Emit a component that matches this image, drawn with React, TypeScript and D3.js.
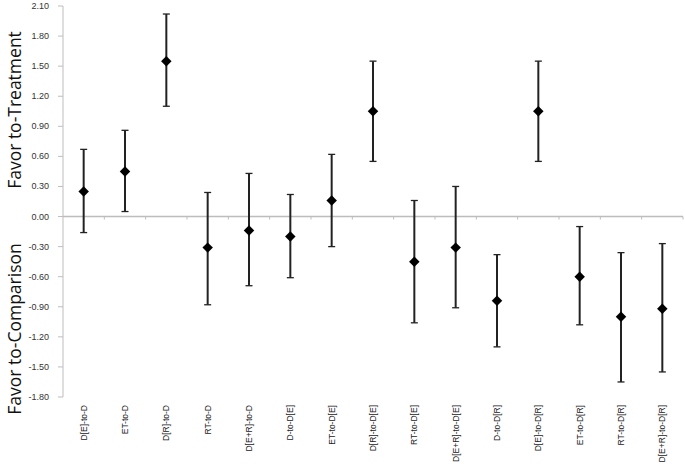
import React from "react";
import * as d3 from "d3";

const categories = [
  "D[E]-to-D", "ET-to-D", "D[R]-to-D", "RT-to-D", "D[E+R]-to-D",
  "D-to-D[E]", "ET-to-D[E]", "D[R]-to-D[E]", "RT-to-D[E]", "D[E+R]-to-D[E]",
  "D-to-D[R]", "D[E]-to-D[R]", "ET-to-D[R]", "RT-to-D[R]", "D[E+R]-to-D[R]",
];
const estimates = [0.25, 0.45, 1.55, -0.31, -0.14, -0.2, 0.16, 1.05, -0.45, -0.31, -0.84, 1.05, -0.6, -1.0, -0.92];
const lowers = [-0.16, 0.05, 1.1, -0.88, -0.69, -0.61, -0.3, 0.55, -1.06, -0.91, -1.3, 0.55, -1.08, -1.65, -1.55];
const uppers = [0.67, 0.86, 2.02, 0.24, 0.43, 0.22, 0.62, 1.55, 0.16, 0.3, -0.38, 1.55, -0.1, -0.36, -0.27];
const yTicks = [2.1, 1.8, 1.5, 1.2, 0.9, 0.6, 0.3, 0.0, -0.3, -0.6, -0.9, -1.2, -1.5, -1.8];

const W = 685, H = 471;
const left = 63, right = 683, top = 6, bottom = 397;
const font = "'Liberation Sans', Arial, sans-serif";
const titleFont = "'Open Sans', 'Liberation Sans', sans-serif";

export default function App() {
  const x = d3.scaleBand<string>().domain(categories).range([left, right]);
  const y = d3.scaleLinear().domain([-1.8, 2.1]).range([bottom, top]);
  const y0 = y(0);
  const bw = x.bandwidth();
  const diamond = d3.symbol().type(d3.symbolDiamond2).size(70)();

  return (
    <svg width={W} height={H} style={{ position: "absolute", left: 0, top: 0, background: "#fff" }}>
      <line x1={left} x2={left} y1={y(2.1)} y2={y(-1.8)} stroke="#bdbdbd" strokeWidth={1} />
      {yTicks.map((t) => (
        <g key={t}>
          <line x1={left - 5} x2={left} y1={y(t)} y2={y(t)} stroke="#bdbdbd" strokeWidth={1} />
          <text x={left - 14} y={y(t) + 3} textAnchor="end" fontSize={9} fill="#333" fontFamily={font}>
            {t.toFixed(2)}
          </text>
        </g>
      ))}
      <line x1={left} x2={right} y1={y0} y2={y0} stroke="#bdbdbd" strokeWidth={1.5} />
      {categories.map((c, i) => (
        <line key={"t" + i} x1={x(c)! + bw} x2={x(c)! + bw} y1={y0} y2={y0 + 3} stroke="#bdbdbd" strokeWidth={1} />
      ))}
      {categories.map((c, i) => {
        const cx = x(c)! + bw / 2;
        return (
          <g key={c}>
            <line x1={cx} x2={cx} y1={y(uppers[i])} y2={y(lowers[i])} stroke="#222" strokeWidth={2} />
            <line x1={cx - 3.5} x2={cx + 3.5} y1={y(uppers[i])} y2={y(uppers[i])} stroke="#222" strokeWidth={1.3} />
            <line x1={cx - 3.5} x2={cx + 3.5} y1={y(lowers[i])} y2={y(lowers[i])} stroke="#222" strokeWidth={1.3} />
            <path d={diamond!} transform={`translate(${cx},${y(estimates[i])})`} fill="#000" />
          </g>
        );
      })}
      {categories.map((c) => {
        const cx = x(c)! + bw / 2;
        return (
          <text key={"l" + c} transform={`translate(${cx + 3},405) rotate(-90)`} textAnchor="end" fontSize={8.5} fill="#222" fontFamily={font}>
            {c}
          </text>
        );
      })}
      <text transform={`translate(21,110) rotate(-90)`} textAnchor="middle" fontSize={17.5} fill="#111" fontFamily={titleFont}>
        Favor to-Treatment
      </text>
      <text transform={`translate(21,329) rotate(-90)`} textAnchor="middle" fontSize={17.5} fill="#111" fontFamily={titleFont}>
        Favor to-Comparison
      </text>
    </svg>
  );
}
